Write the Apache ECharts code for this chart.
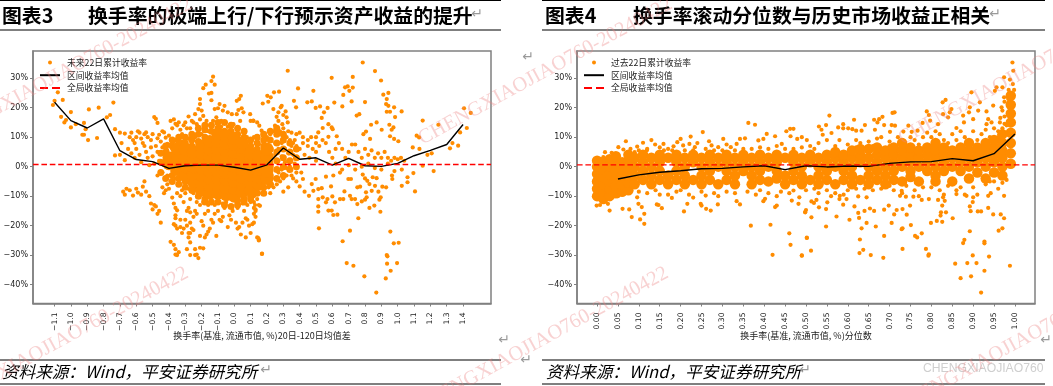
<!DOCTYPE html>
<html><head><meta charset="utf-8">
<style>html,body{margin:0;padding:0;background:#fff}#c{width:1053px;height:386px}</style>
<script src="https://cdn.jsdelivr.net/npm/echarts@6/dist/echarts.min.js"></script>
</head><body><div id="c"></div>
<script>
const leftName='未来22日累计收益率', rightName='过去22日累计收益率', meanName='区间收益率均值', globalName='全局收益率均值';
const leftTicks=[-1.1,-1.0,-0.9,-0.8,-0.7,-0.6,-0.5,-0.4,-0.3,-0.2,-0.1,0,0.1,0.2,0.3,0.4,0.5,0.6,0.7,0.8,0.9,1.0,1.1,1.2,1.3,1.4];
const leftMean=[21.8,15.6,13.1,16.2,5.4,2.4,1.7,-0.6,0.3,0.5,0.5,-0.2,-1.2,0.6,6.3,2.5,3,0.5,2.8,0.3,0.1,1.1,3.7,5.5,7.5,14.3];
const rightTicks=[0,0.05,0.1,0.15,0.2,0.25,0.3,0.35,0.4,0.45,0.5,0.55,0.6,0.65,0.7,0.75,0.8,0.85,0.9,0.95,1];
const rightMeanX=[0.05,0.1,0.15,0.2,0.25,0.3,0.35,0.4,0.45,0.5,0.55,0.6,0.65,0.7,0.75,0.8,0.85,0.9,0.95,1];
const rightMean=[-4.2,-2.8,-1.9,-1.4,-0.7,-0.6,-0.1,0.3,-1.0,0.3,-0.1,0.2,0.1,1.1,1.6,1.7,2.7,2,4.4,11.1];
const yTicks=[-40,-30,-20,-10,0,10,20,30];
const leftGlobal=0.7, rightGlobal=0.6;
const yMin=-46.4,yMax=39.2,leftXMin=-1.232,leftXMax=1.571,rightXMin=-0.048,rightXMax=1.048;
// Solid overplotted regions, read as columns [x,[y...]] and drawn with a larger dot.
const leftCore=[[-0.4,[1,3]],[-0.35,[-1,2,4,6]],[-0.3,[-3,0,3,6]],[-0.25,[-5,-2.5,0,2.5,5]],[-0.2,[-8,-5.5,-3,-0.5,2,4.5,7]],[-0.15,[-9,-6.5,-4,-1.5,1,3.5,6,8.5]],[-0.1,[-9,-6.5,-4,-1.5,1,3.5,6,8.5,11]],[-0.05,[-9.5,-7,-4.5,-2,0.5,3,5.5,8,10.5]],[0,[-10,-7.5,-5,-2.5,0,2.5,5,7.5,9.5]],[0.05,[-8.5,-6,-3.5,-1,1.5,4,6.5,8]],[0.1,[-8,-5.5,-3,-0.5,2,4.5]],[0.15,[-6,-3.5,-1,1.5,3.5]],[0.2,[-4,-1.5,1,3.5,6]]];
const leftHalo=[[-0.45,[-2,1.5,4.5]],[-0.42,[-4,5,7]],[-0.38,[-5,-3,7,9]],[-0.34,[-6,-4,8,10]],[-0.3,[-7,-5,8,10]],[-0.26,[-8,-6,7,9,11]],[-0.22,[-10,-8,8.5,11,13]],[-0.18,[-12,-11,10,12.5,14]],[-0.14,[-12,12,14]],[-0.1,[-12,13,15]],[-0.06,[-13,12,15]],[-0.02,[-13.5,12,14]],[0.02,[-13,-11.5,11,13]],[0.06,[-12,-11,10,12]],[0.1,[-11,-10,7,9]],[0.14,[-9,-7,6,8,10]],[0.18,[-9,-7,7,9,11]],[0.22,[-6,-3,0,3,6,9,12]],[0.26,[-4,-1,2,5,8,11,13]],[0.3,[-3,0,3,6,9,11]],[0.34,[-1,2,5,8]],[0.38,[0,3,6]]];
const leftDots=[[-1.1,22.3],[-1.11,20.9],[-1.05,22.6],[-1.08,25.2],[-1.06,16.9],[-1,18.5],[-1.03,15.8],[-1.04,15],[-0.97,14.4],[-1,13.3],[-0.92,14.8],[-0.91,12.7],[-0.93,10.8],[-0.92,10.8],[-0.895,9],[-0.89,19.4],[-0.83,20],[-0.84,9.7],[-0.78,16.7],[-0.76,17.5],[-0.74,21.7],[-0.73,12.7],
[-0.7,11.5],[-0.67,11.2],[-0.69,8],[-0.64,10],[-0.63,11.5],[-0.62,9],[-0.61,8],[-0.6,10],[-0.59,12],[-0.58,11.5],[-0.57,9.5],[-0.56,8],[-0.55,11],[-0.54,11.6],[-0.53,10],[-0.51,9],[-0.5,11],[-0.49,16.8],[-0.48,16.2],[-0.47,14.8],[-0.47,9.6],[-0.46,10.8],[-0.45,8.5],[-0.44,12],[-0.43,11.6],[-0.42,9.8],[-0.41,7.7],[-0.39,15.5],[-0.4,10.5],[-0.38,13],[-0.37,16],[-0.36,14.5],[-0.35,14],[-0.34,15],[-0.33,12.5],[-0.32,11],[-0.31,14],[-0.3,15],[-0.29,13],[-0.28,17],[-0.27,13],[-0.26,15.5],
[-0.73,3.8],[-0.7,4],[-0.67,2.2],[-0.65,6],[-0.63,4.5],[-0.61,3],[-0.6,6],[-0.58,4],[-0.57,1.5],[-0.55,7],[-0.54,5],[-0.53,3],[-0.52,0.5],[-0.51,6.5],[-0.5,3.5],[-0.49,1],[-0.48,7],[-0.47,5],[-0.46,2],[-0.45,4.5],[-0.44,6.5],[-0.43,0.5],[-0.42,3],[-0.41,5.5],[-0.4,7.5],[-0.38,6],[-0.37,8.5],[-0.36,9],[-0.34,7.5],[-0.32,8.5],[-0.3,9.5],[-0.28,9.5],[-0.26,8.5],
[-0.68,-8.5],[-0.67,-9.5],[-0.66,-7.5],[-0.64,-8],[-0.62,-9.8],[-0.6,-7.5],[-0.59,-8.8],[-0.57,-9.5],[-0.56,-6.8],[-0.55,-5],[-0.54,-8.5],[-0.52,-10],[-0.51,-12.5],[-0.5,-14.5],[-0.49,-13],[-0.48,-13.5],[-0.47,-16],[-0.46,-15],[-0.45,-19],[-0.44,-7],[-0.43,-9],[-0.42,-8],[-0.41,-6],[-0.4,-7.5],[-0.39,-5],[-0.38,-10.5],[-0.37,-12.5],[-0.36,-14],[-0.35,-9],[-0.34,-4],[-0.33,-6],[-0.32,-8],[-0.47,-3],[-0.44,-2],[-0.41,-3],[-0.38,-1.5],[-0.36,-4],[-0.33,-2],[-0.3,-5.5],[-0.28,-7.5],[-0.26,-8.5],[-0.24,-7],
[-0.39,-25.5],[-0.37,-26.5],[-0.36,-28],[-0.36,-29.8],[-0.35,-30],[-0.34,-29],[-0.33,-18],[-0.35,-14.8],[-0.36,-16.5],[-0.36,-17.5],[-0.37,-19.5],[-0.36,-20],[-0.35,-21],[-0.33,-20.5],[-0.32,-22.5],[-0.31,-21],[-0.3,-18],[-0.29,-15],[-0.28,-14],[-0.27,-15.5],[-0.29,-20],[-0.28,-22.5],[-0.27,-22.5],[-0.27,-19],[-0.28,-24],[-0.27,-25.7],[-0.29,-28],[-0.27,-30],[-0.26,-21],[-0.25,-21.5],[-0.24,-15],[-0.25,-17],[-0.23,-16],[-0.24,-30],[-0.24,-28],[-0.23,-29.8],[-0.22,-31],[-0.21,-27.5],[-0.19,-27.7],[-0.21,-23.5],[-0.2,-18.5],[-0.19,-20],[-0.18,-24],[-0.17,-23],[-0.16,-22],[-0.15,-21],[-0.18,-16],[-0.16,-15],[-0.14,-18],[-0.13,-19],[-0.12,-16],[-0.11,-23.5],[-0.1,-15],[-0.09,-18],[-0.08,-18.5],[-0.07,-17],[-0.06,-14],[-0.04,-20.5],[-0.03,-16.5],[-0.02,-18],[-0.01,-15],[0.01,-19],[0.02,-21],[0.03,-20.5],[0.04,-23],[0.05,-19],[0.06,-15],[0.07,-24],[0.07,-17.5],[0.08,-18],[0.09,-20],[0.1,-22.5],[0.11,-19.5],[0.12,-14],[0.13,-17],[0.14,-24],[0.15,-25],[0.17,-29.5],[0.13,-14.5],[0.15,-13],[0.12,-12],
[-0.33,-10],[-0.31,-12],[-0.3,-9],[-0.27,-11],[-0.25,-9],[-0.23,-12],[-0.21,-13],[-0.19,-12],[-0.18,-10.5],[-0.16,-13],[-0.14,-12],[-0.12,-13],[-0.1,-12],[-0.07,-12.5],[-0.05,-12],[0.02,-14],[0.05,-12.5],[0.08,-13],[0.1,-12],[0.12,-10],[0.14,-11],[0.15,-9],
[-0.13,30.5],[-0.14,29],[-0.12,27.8],[-0.175,27.8],[-0.19,26.6],[-0.14,25],[-0.155,24.8],[-0.14,22.5],[-0.21,22.9],[-0.21,21.2],[-0.22,19.5],[-0.2,19],[-0.24,17.8],[-0.25,15],[-0.23,14.4],[-0.19,17.2],[-0.21,16],[-0.17,15.5],[-0.18,13.9],[-0.12,19.5],[-0.09,21.2],[-0.1,19.8],[-0.06,20.6],[-0.07,19],[-0.04,18.4],[-0.015,17.8],[-0.11,16.7],[-0.13,15.5],[-0.08,15.5],[0.015,17.8],[0.025,19.2],[0.045,19.8],[0.03,22.9],[0.04,24],[0.015,22.3],[0.056,18.4],[0.036,15.5],[-0.005,14.4],[0.097,17.8],[0.1,15.5],[0.117,15.5],[0.056,11.6],[0.077,10],[0.14,15],[0.12,10],[0.15,7.6],[-0.16,12],[-0.2,11],[-0.24,10],[-0.22,12.5],[-0.04,13.5],[-0.08,13.5],
[0.327,32.5],[0.39,26.5],[0.484,25.7],[0.596,30.1],[0.678,26.9],[0.694,27.2],[0.725,26.8],[0.704,25.7],[0.725,30.4],[0.786,35.3],[0.861,32.4],[0.898,29.2],[0.912,24.4],[0.943,25],[0.933,22.9],[0.929,21.2],[0.943,20.6],[0.933,18.6],[0.978,20.1],[0.953,18.6],[0.984,16.8],[1.024,18.7],[0.667,24.3],[0.718,22.1],[0.8,21.9],[0.661,20.4],[0.612,21.7],[0.571,19.9],[0.549,18.4],[0.535,16.5],[0.525,20.4],[0.498,19.9],[0.474,22.1],[0.447,21.8],[0.365,22.3],[0.378,20.1],[0.202,24],[0.243,25.2],[0.274,25.4],[0.223,23.5],[0.208,22],[0.174,21.4],[0.239,19.5],[0.29,20.6],[0.284,20.1],[0.314,18.7],[0.27,18.4],[0.259,16.9],[0.32,16.7],[0.3,17.5],[0.327,15],[0.249,13.9],[0.294,14.4],[0.153,13.9],[0.167,12.2],[0.116,15.6],
[0.749,17.3],[0.765,17.8],[0.871,15],[0.837,14.2],[0.902,12.5],[0.949,14.2],[0.974,13.3],[0.963,12.5],[0.806,11.9],[0.79,11],[0.831,9.4],[0.953,10.3],[0.978,9.4],[1.004,8.6],[0.576,14.4],[0.596,13.3],[0.602,12.7],[0.541,13.1],[0.514,11.6],[0.576,10.1],[0.627,10.3],[1.153,15.6],[1.249,14.2],[1.116,10.5],[1.131,9.9],[1.406,19.8],[1.447,18.2],[1.423,13.1],[1.382,11.6],[1.335,8],[1.37,7.1],[1.32,6.2],[1.208,4.5],[1.182,4],[1.153,0.3],[1.22,-1.5],[1.133,6],[1.092,6.5],[1.106,-8.4],[1.096,-2.2],[1.06,-3.6],[1.06,-5.3],[1.025,-6.5],[1.025,-1],
[0.4,6],[0.42,8],[0.45,7],[0.43,4],[0.46,3],[0.48,6],[0.5,5],[0.5,2],[0.52,7],[0.54,9],[0.56,8],[0.58,5],[0.6,3],[0.62,6],[0.64,8],[0.66,6],[0.68,3],[0.7,5],[0.72,7.5],[0.74,7.5],[0.76,5],[0.78,3],[0.8,6],[0.82,4],[0.84,5.5],[0.86,3],[0.88,4.5],[0.9,3],[0.92,5],[0.94,3],[0.96,2],[0.98,3],[1,2.5],[1.02,3],[1.04,2],[0.33,2],[0.36,4],[0.38,3],[0.62,1],[0.66,-1],[0.7,0.5],[0.74,-1],[0.78,0],[0.82,1],[0.86,-0.5],[0.9,-1],[0.94,1],[0.98,-1.5],
[0.42,-4.2],[0.4,-6.7],[0.43,-8.5],[0.457,-9.9],[0.474,-5.9],[0.484,-8.2],[0.498,-4.2],[0.514,-7.6],[0.514,-11],[0.514,-13.5],[0.514,-15.3],[0.518,-20.9],[0.535,-7.3],[0.541,-10.4],[0.561,-3.4],[0.57,-11],[0.561,-12.1],[0.576,-14.9],[0.596,-14.9],[0.592,-6.7],[0.6,-10.1],[0.606,-3],[0.616,-12.1],[0.606,-16.4],[0.631,-16.3],[0.647,-11],[0.667,-11],[0.674,-8.4],[0.647,-2],[0.698,-4.2],[0.714,-4.2],[0.708,-9.9],[0.718,-11],[0.739,-11],[0.753,-7],[0.753,-12.7],[0.78,-11.8],[0.786,-2.7],[0.8,-4],[0.814,-4.8],[0.827,-5.9],[0.806,-8.7],[0.81,-10.4],[0.8,-11.2],[0.827,-14],[0.847,-3.6],[0.871,-3.9],[0.861,-6.5],[0.841,-8.2],[0.882,-8.5],[0.906,-6.8],[0.929,-7],[0.896,-10.4],[0.888,-11.2],[0.857,-13.2],[0.894,-15.3],[0.759,-17.5],[0.708,-21.7],[0.663,-25.3],[0.688,-32.7],[0.729,-33.6],[0.796,-37.2],[0.869,-42.7],[0.927,-37.9],[0.957,-35.3],[0.933,-30],[0.937,-30.4],[0.935,-32.9],[0.996,-32.7],[0.955,-22],[0.976,-26],[1.006,-25.8],[0.169,-29.6],[0.147,-24.2],[0.151,-24.8],[0.965,-3],[0.967,-4.2],[0.77,-6.8],
[0.22,-9],[0.24,-7],[0.26,-6],[0.28,-5],[0.3,-4],[0.32,-3],[0.35,-3],[0.33,-7],[0.36,-4],[0.38,-5],[0.3,-8.5],[0.127,-13],[0.13,-15],[0.12,-19],[0.12,-16],[0.157,-13.3],[0.18,9],[0.2,10],[0.22,11],[0.24,12],[0.26,13],[0.28,12],[0.3,11],[0.32,10],[0.34,9],[0.36,8],[0.38,7],[0.27,15.5],[0.3,13],[0.33,12],[0.35,11.5],[0.38,11],[0.4,11.5],[0.37,9],[0.42,10],[0.45,9],[0.47,10],[0.5,10],[0.5,8],[0.25,8],[0.27,6],[0.29,8],[0.31,6],[0.33,4.5],[0.35,7],[0.25,4],[0.27,2],[0.29,3.5],[0.31,1.5],[0.34,0],[0.37,1],[0.27,-2],[0.29,-1],[0.32,-0.5],[0.25,-4],[0.23,-6],[0.21,-7],[0.38,-2],[0.41,-2]];
const rightCore=[[0,[-10,-7.5,-5,-2.5,0,2]],[0.015,[-11,-8.5,-6,-3.5,-1,1.5]],[0.03,[-10,-7.5,-5,-2.5,0,2.5]],[0.045,[-9,-6.5,-4,-1.5,1,3.5]],[0.06,[-8.5,-6,-3.5,-1,1.5]],[0.075,[-8,-5.5,-3,-0.5,2,4]],
[0.09,[-6,-3,0,3]],[0.11,[-4.5,-1.5,1.5,4]],[0.13,[-6,-3,0,3]],[0.15,[-4.5,-1.5,1.5,4]],[0.17,[-6,-3,3]],[0.19,[-4.5,-1.5,1.5,4]],[0.21,[-6,-3,0,3]],[0.23,[-4.5,1.5,4]],[0.25,[-6,-3,0,3]],[0.27,[-4.5,-1.5,1.5,4]],[0.29,[-6,0,3]],[0.31,[-4.5,-1.5,1.5,4]],[0.33,[-6,-3,0,3]],[0.35,[-1.5,1.5,4]],[0.37,[-6,-3,0,3]],[0.39,[-4.5,-1.5,1.5,4]],[0.41,[-5,0,3]],[0.43,[-4,-1.5,1.5,4]],[0.45,[-6,-3,3]],[0.47,[-4.5,-1.5,1.5,4]],[0.49,[-6,-3,0,3]],[0.51,[-4.5,1.5,4]],[0.53,[-6,-3,0,3]],[0.55,[-4.5,-1.5,1.5,4]],[0.57,[-6,0,3,5]],[0.59,[-4.5,-1.5,1.5,4]],[0.61,[-6,-3,0,3,5.5]],[0.63,[-4.5,1.5,4,6]],[0.65,[-6,-3,0,3,6]],[0.67,[-4.5,-1.5,1.5,4,6.5]],[0.69,[-6,-3,0,3,5.5]],[0.71,[-4.5,-1.5,1.5,4,6.5]],[0.73,[-5,0,3,5.5,8]],[0.75,[-3.5,-1.5,1.5,4,6.5]],[0.77,[-5,0,3,5.5]],[0.79,[-1.5,1.5,4,6.5]],[0.81,[-5,-3,0,3,5.5,8]],[0.83,[-1.5,1.5,4,6.5]],[0.85,[-5,0,3,5.5]],[0.87,[-1.5,1.5,4,6.5]],[0.89,[-4,0,3,5.5,8]],[0.91,[-2,1.5,4,6.5]],[0.93,[-4,0,3,5.5,8]],[0.95,[-2,1.5,4,6.5,9]],[0.97,[-3,0,3,5.5,8,11]],[0.99,[1,4.5,8,11.5,15,18,21,24]]];
const rightDots=[[0.007,2.6],[0.019,4.9],[0.035,4.7],[0.015,3.2],[0.051,6.6],[0.069,8.6],[0.063,5.8],[0.09,4.9],[0.096,6.8],[0.11,8.1],[0.13,9],[0.139,7.5],[0.119,5.5],[0.159,7.7],[0.17,6],[0.183,6.9],[0.192,8.3],[0.2,9.4],[0.224,10.2],[0.221,7.7],[0.206,7.2],[0.253,11.7],[0.268,8.6],[0.234,6.6],[0.274,7.2],[0.302,9.4],[0.29,6.6],[0.32,6.6],[0.334,7.7],[0.342,9.4],[0.354,9.6],[0.362,14.8],[0.378,14.2],[0.386,8.9],[0.398,9.4],[0.406,11.1],[0.426,10.3],[0.442,7.7],[0.453,12],[0.462,12.8],[0.47,12.8],[0.463,10.3],[0.479,9.4],[0.49,10],[0.502,9],
[0.02,2],[0.08,6],[0.1,5.5],[0.12,6],[0.15,6.5],[0.16,5.5],[0.18,5.5],[0.21,5.5],[0.23,5.5],[0.24,8],[0.26,6],[0.28,5.5],[0.3,5.5],[0.31,7.5],[0.33,5.5],[0.35,6],[0.37,6],[0.39,6.5],[0.41,6],[0.43,7],[0.45,6],[0.47,6],[0.49,6.5],
[-0.001,-13.2],[0.007,-13],[0.026,-12.6],[0.03,-14.9],[0.061,-14.3],[0.077,-14.5],[0.083,-17.1],[0.096,-10.4],[0.099,-12.6],[0.107,-13.7],[0.103,-17.9],[0.113,-16],[0.113,-19.4],[0.143,-12.8],[0.147,-13],[0.155,-14.1],[0.179,-10.6],[0.208,-15.2],[0.216,-12.6],[0.248,-12.6],[0.25,-13.2],[0.261,-14.3],[0.272,-14.9],[0.289,-12.8],[0.334,-11.7],[0.342,-12.8],[0.368,-20],[0.398,-11.7],[0.402,-10.9],[0.415,-19.7],[0.426,-13.7],[0.43,-13.2],[0.42,-29.9],[0.46,-22.6],[0.463,-26.5],[0.49,-30.1],[0.502,-24.1],[0.466,-11.5],[0.482,-12.6],[0.484,-10.4],[0.498,-15.4],[0.47,-8.1],
[0.05,-10],[0.06,-9],[0.08,-8.5],[0.1,-8.5],[0.12,-9],[0.14,-8],[0.15,-9.5],[0.17,-9.5],[0.19,-8.5],[0.2,-8],[0.22,-9.5],[0.23,-10.5],[0.25,-8.5],[0.26,-9.8],[0.28,-9],[0.29,-10],[0.31,-8.5],[0.33,-9],[0.36,-8.5],[0.38,-9.5],[0.39,-8],[0.41,-9],[0.43,-10],[0.44,-8.5],[0.46,-9],
[0.556,17.3],[0.531,13.6],[0.548,14.1],[0.537,12.5],[0.54,10.8],[0.561,11.4],[0.577,13.3],[0.589,14.4],[0.589,13],[0.601,13],[0.611,12.7],[0.615,15.9],[0.62,12.2],[0.633,12.2],[0.641,14.1],[0.663,15.9],[0.671,15],[0.675,16.1],[0.683,16.9],[0.665,12.5],[0.687,14.1],[0.705,14.1],[0.713,13.9],[0.707,18.2],[0.712,18.4],[0.701,11.8],[0.745,13.9],[0.733,11.9],[0.753,11.8],[0.779,14.8],[0.789,18.7],[0.794,17.5],[0.797,15.6],[0.767,12.2],[0.827,21.8],[0.834,22.6],[0.828,17.8],[0.844,18.4],[0.848,19.5],[0.84,16.7],[0.816,14.4],[0.86,13.1],[0.876,17.3],[0.878,15],[0.89,18.4],[0.892,20.1],[0.896,25.2],[0.916,21.8],[0.912,19],[0.9,16.1],[0.952,25.7],[0.97,26.9],[0.974,30.3],[0.988,29.5],[0.994,35.3],[0.996,32.5],[0.948,20.7],[0.932,18.7],[0.968,20.1],[0.974,23.5],[0.956,26.9],[0.984,22.9],[0.944,15],[0.932,14.4],[0.936,16.1],[0.964,15],
[0.995,28],[0.998,26],[0.985,26],[0.975,22],[0.97,19],[0.975,17],[0.965,16.5],[0.98,14],[0.97,13],[0.96,12],[0.975,14.5],[0.965,10],
[0.51,7],[0.53,8],[0.55,9],[0.52,6],[0.57,7],[0.58,9],[0.6,7.5],[0.62,9],[0.63,8],[0.65,8.5],[0.67,9.5],[0.68,10],[0.7,8.5],[0.72,10],[0.73,9],[0.75,10],[0.76,9],[0.78,10],[0.8,10],[0.82,11],[0.79,11.5],[0.81,12],[0.83,9],[0.85,11],[0.87,12],[0.86,9],[0.88,10],[0.9,12],[0.92,11],[0.89,8.5],[0.91,9],[0.93,12.5],[0.95,13],[0.97,12],[0.94,10],[0.96,10],[0.98,11],[0.62,6.5],[0.66,7],[0.7,7],[0.74,7],[0.77,7.5],[0.84,8],
[0.5,-8],[0.52,-7.5],[0.53,-9],[0.55,-8],[0.56,-10],[0.57,-9],[0.57,-6.8],[0.58,-11],[0.59,-9.5],[0.6,-8],[0.62,-7.5],[0.64,-7.5],[0.66,-8],[0.68,-7.5],[0.7,-6.5],[0.71,-8],[0.73,-9],[0.74,-6.5],[0.76,-8],[0.77,-10],[0.78,-7],[0.8,-7],[0.82,-8],[0.83,-9.5],[0.84,-6.5],[0.86,-8],[0.87,-7],[0.88,-9.5],[0.9,-7],[0.91,-9.5],[0.93,-6],[0.95,-5],[0.96,-7.5],[0.97,-5.5],[0.98,-4.5],[0.94,-5],
[0.513,-11.8],[0.519,-12.3],[0.525,-11.3],[0.531,-13.8],[0.5,-14.7],[0.498,-15.5],[0.513,-17.2],[0.548,-14.4],[0.551,-12.1],[0.573,-16.9],[0.502,-24.2],[0.512,-28.5],[0.49,-30.2],[0.548,-20.3],[0.581,-9.9],[0.597,-11],[0.589,-12.9],[0.604,-18],[0.616,-13.5],[0.625,-10.1],[0.625,-15.7],[0.627,-17.4],[0.64,-15],[0.645,-10.4],[0.653,-14.2],[0.663,-15],[0.645,-19.1],[0.633,-20.9],[0.667,-20.3],[0.629,-24.7],[0.628,-29.3],[0.637,-28.2],[0.655,-30],[0.685,-30.9],[0.687,-23.5],[0.687,-14.6],[0.698,-13.2],[0.705,-19.1],[0.711,-16.2],[0.717,-14.7],[0.729,-21.2],[0.731,-20.9],[0.731,-14.4],[0.741,-16.3],[0.749,-13.2],[0.751,-19.8],[0.731,-27.9],[0.761,-23.5],[0.766,-24],[0.777,-22.6],[0.787,-27.9],[0.794,-29.7],[0.793,-30.2],[0.799,-19.1],[0.813,-18.4],[0.826,-18.7],[0.823,-15.5],[0.822,-16.6],[0.835,-15.5],[0.826,-13.2],[0.851,-17.5],[0.857,-32.9],[0.87,-37.8],[0.886,-32.7],[0.895,-37.2],[0.899,-30.1],[0.908,-32.7],[0.919,-42.7],[0.927,-35.3],[0.879,-24.8],[0.876,-25.9],[0.892,-21.9],[0.927,-25.4],[0.927,-26],[0.938,-30.5],[0.988,-33.6],[0.911,-15.2],[0.919,-15.2],[0.936,-14],[0.948,-16.2],[0.966,-16.2],[0.974,-17.5],[0.97,-20.9],[0.961,-21.7],[0.974,-9.9],[0.942,-9],[0.936,-9.9],[0.9,-10.4],[0.892,-13.5],[0.894,-15.1],[0.899,-12],[0.884,-9.9],[0.86,-9.3],[0.832,-11.6],[0.828,-10.4],[0.816,-11.3],[0.794,-11],[0.777,-11.3],[0.757,-10.2],[0.739,-10.2],[0.725,-9.9],[0.729,-8.2]];

const expand=cols=>cols.flatMap(([x,ys])=>ys.map(y=>[x,y]));
const cjk='"Noto Sans CJK SC","Liberation Sans",sans-serif';
const orange='#FF8C00', frame='#808080', ink='#222';
const minus=s=>String(s).replace('-','\u2212');
function xAxis(idx,min,max,ticks,dec,name){return {gridIndex:idx,type:'value',min,max,name,nameLocation:'middle',nameGap:28,nameMoveOverlap:false,
  nameTextStyle:{fontFamily:cjk,fontSize:9,color:ink},splitLine:{show:false},
  axisLine:{onZero:false,lineStyle:{color:frame,width:1.5}},axisTick:{show:true,length:3,lineStyle:{color:frame},customValues:ticks},
  axisLabel:{rotate:90,fontSize:7.6,color:ink,margin:9,fontFamily:'"DejaVu Sans",sans-serif',customValues:ticks,formatter:v=>minus(Number(v).toFixed(dec))}};}
function yAxis(idx){return {gridIndex:idx,type:'value',min:yMin,max:yMax,splitLine:{show:false},
  axisLine:{show:true,onZero:false,lineStyle:{color:frame,width:1.5}},axisTick:{show:true,length:3,lineStyle:{color:frame},customValues:yTicks},
  axisLabel:{fontSize:8,color:ink,margin:5,fontFamily:'"DejaVu Sans",sans-serif',customValues:yTicks,formatter:v=>minus(v)+'%'}};}
function dots(name,idx,data,size){return {name,type:'scatter',xAxisIndex:idx,yAxisIndex:idx,data,symbolSize:size,itemStyle:{color:orange,opacity:1},z:2};}
function line(name,idx,data,color,type,w,z){return {name,type:'line',xAxisIndex:idx,yAxisIndex:idx,data,symbol:'none',lineStyle:{color,type,width:w},itemStyle:{color},z};}
function legend(left,name){return {left,top:58,padding:0,orient:'vertical',itemWidth:20,itemHeight:4,itemGap:4,selectedMode:false,
  textStyle:{fontFamily:cjk,fontSize:8.8,color:ink,padding:[0,0,0,2]},data:[{name,icon:'circle'},{name:meanName,itemStyle:{opacity:0}},{name:globalName,itemStyle:{opacity:0}}]};}
function head(text,left){return {text,left,top:6,padding:0,textStyle:{fontFamily:cjk,fontSize:19.85,fontWeight:'bold',color:'#000'}};}
const rule=(x1,x2,y,w)=>({type:'line',shape:{x1,y1:y,x2,y2:y},style:{stroke:'#000',lineWidth:w},silent:true});
const note=(x,y,text,size,fill,extra)=>({type:'text',x,y,silent:true,style:Object.assign({text,fill,font:size+'px '+cjk,verticalAlign:'middle'},extra||{})});
const mark=(x,y)=>({type:'text',x,y,silent:true,style:{text:'\u21B5',fill:'#9a9a9a',font:'14px "DejaVu Sans"',align:'center',verticalAlign:'middle'}});
const wm=(x,y)=>({type:'text',x,y,rotation:0.5,silent:true,z:50,style:{text:'CHENGXIAOJIAO760-20240422',fill:'rgba(235,130,130,0.36)',font:'20.5px "Liberation Serif"',verticalAlign:'middle'}});
const chart=echarts.init(document.getElementById('c'),null,{renderer:'canvas'});
chart.setOption({animation:false,backgroundColor:'#fff',
 title:[head('图表3',2),head('换手率的极端上行/下行预示资产收益的提升',88),head('图表4',545),head('换手率滚动分位数与历史市场收益正相关',633)],
 legend:[legend(39,leftName),legend(583,rightName)],
 grid:[{left:33,top:51,width:458,height:252.5,show:true,borderColor:frame,borderWidth:1.5,backgroundColor:'transparent'},{left:577,top:51,width:458,height:252.5,show:true,borderColor:frame,borderWidth:1.5,backgroundColor:'transparent'}],
 xAxis:[xAxis(0,leftXMin,leftXMax,leftTicks,1,'换手率(基准, 流通市值, %)20日-120日均值差'),xAxis(1,rightXMin,rightXMax,rightTicks,2,'换手率(基准, 流通市值, %)分位数')],
 yAxis:[yAxis(0),yAxis(1)],
 series:[dots(leftName,0,leftDots,4.2),dots(leftName,0,expand(leftHalo),7),dots(leftName,0,expand(leftCore),13),
  line(meanName,0,leftTicks.map((x,i)=>[x,leftMean[i]]),'#000','solid',1.4,4),
  line(globalName,0,[[leftXMin,leftGlobal],[leftXMax,leftGlobal]],'#f00','dashed',1.4,5),
  dots(rightName,1,rightDots,4.2),dots(rightName,1,expand(rightCore),10.5),
  line(meanName,1,rightMeanX.map((x,i)=>[x,rightMean[i]]),'#000','solid',1.4,4),
  line(globalName,1,[[rightXMin,rightGlobal],[rightXMax,rightGlobal]],'#f00','dashed',1.4,5)],
 graphic:[rule(0,501,0.5,1.2),rule(0,501,30,1.2),rule(0,501,360,1.2),rule(0,501,384,1.2),rule(542,1045,0.5,1.2),rule(542,1045,30,1.2),rule(542,1045,360,1.2),rule(542,1045,384,1.2),
  note(2,372,'资料来源：Wind，平安证券研究所',16.6,'#000',{font:'italic 16.6px '+cjk}),
  note(546,372,'资料来源：Wind，平安证券研究所',16.6,'#000',{font:'italic 16.6px '+cjk}),
  note(923,369,'CHENGXIAOJIAO760',12.2,'#cfcfcf',{font:'12.2px "Liberation Sans"'}),
  mark(477,14),mark(995,14),mark(528,57),mark(526,360),mark(504,340),mark(266,370),mark(805,370),mark(1046,340),
  wm(-60,140),wm(420,140),wm(900,140),wm(-64,409),wm(416,409),wm(896,409)]
});
</script></body></html>
